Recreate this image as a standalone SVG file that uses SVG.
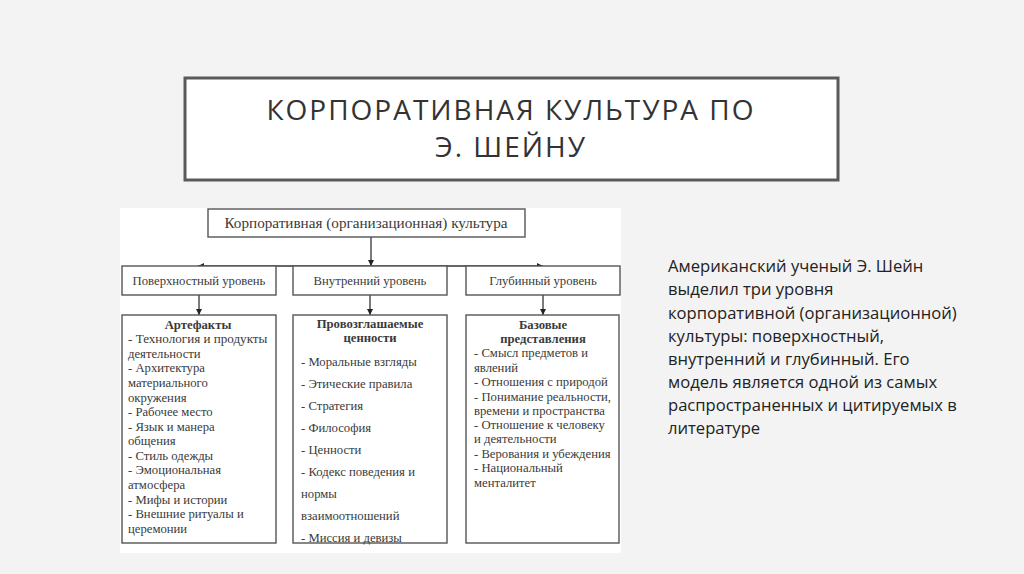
<svg xmlns="http://www.w3.org/2000/svg" width="1024" height="574" viewBox="0 0 1024 574">
<defs>
<marker id="arr" viewBox="0 0 10 10" refX="10" refY="5" markerWidth="6" markerHeight="6" markerUnits="userSpaceOnUse" orient="auto">
<path d="M0,0 L10,5 L0,10 z" fill="#222"/>
</marker>
<style>
.box{fill:#fff;stroke:#555;stroke-width:1.4}
.t{font-family:"Liberation Serif",serif;font-size:12.7px;fill:#3a3a3a}
.b{font-weight:bold;text-anchor:middle}
.c{text-anchor:middle}
.con{stroke:#333;stroke-width:1.3;fill:none}
.p{font-family:"Open Sans","Noto Sans",sans-serif;font-size:16.6px;fill:#222}
.h{font-family:"Open Sans","Noto Sans",sans-serif;font-size:28px;letter-spacing:2px;fill:#333;text-anchor:middle}
</style>
</defs>
<rect x="0" y="0" width="1024" height="574" fill="#f3f3f3"/>
<g id="title">
<rect x="185" y="78" width="653" height="102" fill="#fff" stroke="#5a5a5a" stroke-width="3"/>
<text class="h" x="511" y="120">КОРПОРАТИВНАЯ КУЛЬТУРА ПО</text>
<text class="h" x="511" y="157">Э. ШЕЙНУ</text>
</g>
<rect x="120" y="208" width="501" height="345" fill="#fff"/>
<g id="connectors">
<line class="con" x1="371" y1="237" x2="371" y2="266" marker-end="url(#arr)"/>
<line class="con" x1="371" y1="266" x2="198" y2="266" marker-end="url(#arr)"/>
<line class="con" x1="371" y1="266" x2="543" y2="266" marker-end="url(#arr)"/>
<line class="con" x1="199" y1="295" x2="199" y2="315" marker-end="url(#arr)"/>
<line class="con" x1="370" y1="295" x2="370" y2="315" marker-end="url(#arr)"/>
<line class="con" x1="543" y1="295" x2="543" y2="315" marker-end="url(#arr)"/>
</g>
<g id="root">
<rect class="box" x="208" y="209" width="317" height="28"/>
<text class="t c" x="366" y="228" style="font-size:15.2px">Корпоративная (организационная) культура</text>
</g>
<g id="level1">
<rect class="box" x="122" y="266" width="154" height="29"/>
<text class="t c" x="199" y="285">Поверхностный уровень</text>
</g>
<g id="level2">
<rect class="box" x="293" y="266" width="154" height="29"/>
<text class="t c" x="370" y="285">Внутренний уровень</text>
</g>
<g id="level3">
<rect class="box" x="466" y="266" width="154" height="29"/>
<text class="t c" x="543" y="285">Глубинный уровень</text>
</g>
<g id="detail1">
<rect class="box" x="122" y="315" width="154" height="228"/>
<text class="t b" x="198" y="329">Артефакты</text>
<text class="t" x="128" y="343" style="font-size:13.1px">- Технология и продукты</text>
<text class="t" x="128" y="358">деятельности</text>
<text class="t" x="128" y="372">- Архитектура</text>
<text class="t" x="128" y="387">материального</text>
<text class="t" x="128" y="402">окружения</text>
<text class="t" x="128" y="416">- Рабочее место</text>
<text class="t" x="128" y="431">- Язык и манера</text>
<text class="t" x="128" y="445">общения</text>
<text class="t" x="128" y="460">- Стиль одежды</text>
<text class="t" x="128" y="474">- Эмоциональная</text>
<text class="t" x="128" y="489">атмосфера</text>
<text class="t" x="128" y="504">- Мифы и истории</text>
<text class="t" x="128" y="518">- Внешние ритуалы и</text>
<text class="t" x="128" y="533">церемонии</text>
</g>
<g id="detail2">
<rect class="box" x="293" y="315" width="154" height="228"/>
<text class="t b" x="370" y="328">Провозглашаемые</text>
<text class="t b" x="370" y="342">ценности</text>
<text class="t" x="301" y="366">- Моральные взгляды</text>
<text class="t" x="301" y="388">- Этические правила</text>
<text class="t" x="301" y="410">- Стратегия</text>
<text class="t" x="301" y="432">- Философия</text>
<text class="t" x="301" y="454">- Ценности</text>
<text class="t" x="301" y="476">- Кодекс поведения и</text>
<text class="t" x="301" y="498">нормы</text>
<text class="t" x="301" y="520">взаимоотношений</text>
<text class="t" x="301" y="542">- Миссия и девизы</text>
</g>
<g id="detail3">
<rect class="box" x="466" y="315" width="153" height="228"/>
<text class="t b" x="543" y="329">Базовые</text>
<text class="t b" x="543" y="343">представления</text>
<text class="t" x="474" y="357">- Смысл предметов и</text>
<text class="t" x="474" y="372">явлений</text>
<text class="t" x="474" y="386">- Отношения с природой</text>
<text class="t" x="474" y="401">- Понимание реальности,</text>
<text class="t" x="474" y="415">времени и пространства</text>
<text class="t" x="474" y="429">- Отношение к человеку</text>
<text class="t" x="474" y="443">и деятельности</text>
<text class="t" x="474" y="458">- Верования и убеждения</text>
<text class="t" x="474" y="472">- Национальный</text>
<text class="t" x="474" y="487">менталитет</text>
</g>
<g id="description">
<text class="p" x="668" y="272">Американский ученый Э. Шейн</text>
<text class="p" x="668" y="295">выделил три уровня</text>
<text class="p" x="668" y="319">корпоративной (организационной)</text>
<text class="p" x="668" y="342">культуры: поверхностный,</text>
<text class="p" x="668" y="365">внутренний и глубинный. Его</text>
<text class="p" x="668" y="388">модель является одной из самых</text>
<text class="p" x="668" y="411">распространенных и цитируемых в</text>
<text class="p" x="668" y="434">литературе</text>
</g>
</svg>
